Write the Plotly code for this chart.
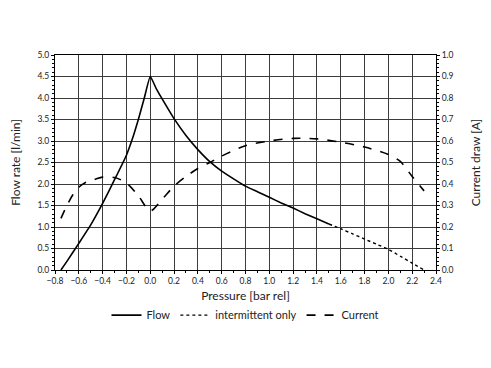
import plotly.graph_objects as go

# Flow rate [l/min], solid part
flow_x = [-0.75, -0.7, -0.6, -0.5, -0.4, -0.3, -0.2, -0.15, -0.1, -0.05, 0.0,
          0.05, 0.1, 0.2, 0.3, 0.4, 0.5, 0.6, 0.7, 0.8, 0.9, 1.0, 1.1, 1.2, 1.3, 1.4, 1.5]
flow_y = [0.0, 0.2, 0.62, 1.05, 1.55, 2.1, 2.67, 3.05, 3.5, 4.0, 4.5,
          4.22, 3.98, 3.52, 3.13, 2.8, 2.52, 2.3, 2.12, 1.95, 1.82, 1.69, 1.56, 1.44, 1.31, 1.19, 1.07]
# Flow rate, intermittent only (dotted)
inter_x = [1.5, 1.6, 1.7, 1.8, 1.9, 2.0, 2.1, 2.2, 2.3]
inter_y = [1.07, 0.96, 0.84, 0.72, 0.6, 0.48, 0.32, 0.16, 0.0]
# Current draw [A] (dashed, right axis)
cur_x = [-0.75, -0.7, -0.65, -0.6, -0.55, -0.5, -0.4, -0.3, -0.2, -0.1, 0.0,
         0.1, 0.2, 0.3, 0.4, 0.5, 0.6, 0.8, 1.0, 1.2, 1.4, 1.6, 1.8, 2.0, 2.1, 2.2, 2.3]
cur_y = [0.24, 0.3, 0.35, 0.385, 0.405, 0.415, 0.432, 0.43, 0.405, 0.345, 0.275,
         0.33, 0.39, 0.435, 0.472, 0.5, 0.53, 0.578, 0.6, 0.612, 0.61, 0.594, 0.572, 0.537, 0.505, 0.435, 0.368]

font = "Lato, 'Open Sans', sans-serif"

fig = go.Figure()
fig.add_trace(go.Scatter(x=flow_x, y=flow_y, mode="lines", name="Flow",
                         line=dict(color="black", width=1.6, shape="spline", smoothing=0.4)))
fig.add_trace(go.Scatter(x=inter_x, y=inter_y, mode="lines", name="intermittent only",
                         line=dict(color="black", width=1.4, dash="dot", shape="spline", smoothing=0.6)))
fig.add_trace(go.Scatter(x=cur_x, y=cur_y, mode="lines", name="Current", yaxis="y2",
                         line=dict(color="black", width=1.6, dash="dash", shape="spline", smoothing=0.8)))

fig.update_layout(
    width=475, height=352,
    margin=dict(l=47, r=47, t=47, b=90, autoexpand=False),
    paper_bgcolor="white", plot_bgcolor="white",
    font=dict(family=font, color="#222", size=8.5),
    showlegend=True,
    legend=dict(orientation="h", x=0.5, xanchor="center", y=-0.21, yanchor="middle",
                font=dict(size=11, family=font), itemwidth=30, tracegroupgap=0),
    xaxis=dict(range=[-0.8, 2.4], dtick=0.2, tick0=-0.8, tickformat=".1f", automargin=False,
               showgrid=True, gridcolor="#3c3c3c", gridwidth=1,
               showline=True, linecolor="black", linewidth=1, mirror=True,
               ticks="outside", ticklen=3, tickcolor="black", zeroline=False,
               minor=dict(dtick=0.1, ticks="outside", ticklen=2, tickcolor="black", showgrid=False),
               title=dict(text="Pressure [bar rel]", font=dict(size=12), standoff=6),
               tickfont=dict(size=8.5)),
    yaxis=dict(range=[0, 5], dtick=0.5, tickformat=".1f", automargin=False,
               showgrid=True, gridcolor="#3c3c3c", gridwidth=1,
               showline=True, linecolor="black", linewidth=1, mirror=True,
               ticks="outside", ticklen=3, tickcolor="black", zeroline=False,
               minor=dict(dtick=0.1, ticks="outside", ticklen=2, tickcolor="black", showgrid=False),
               title=dict(text="Flow rate [l/min]", font=dict(size=12), standoff=17),
               tickfont=dict(size=8.5)),
    yaxis2=dict(range=[0, 1], dtick=0.1, tickformat=".1f", overlaying="y", side="right",
                automargin=False,
                showgrid=False, showline=True, linecolor="black", linewidth=1,
                ticks="outside", ticklen=3, tickcolor="black", zeroline=False,
                minor=dict(dtick=0.02, ticks="outside", ticklen=2, tickcolor="black"),
                title=dict(text="Current draw [A]", font=dict(size=12), standoff=22),
                tickfont=dict(size=8.5)),
)

fig.write_html("out.html")
